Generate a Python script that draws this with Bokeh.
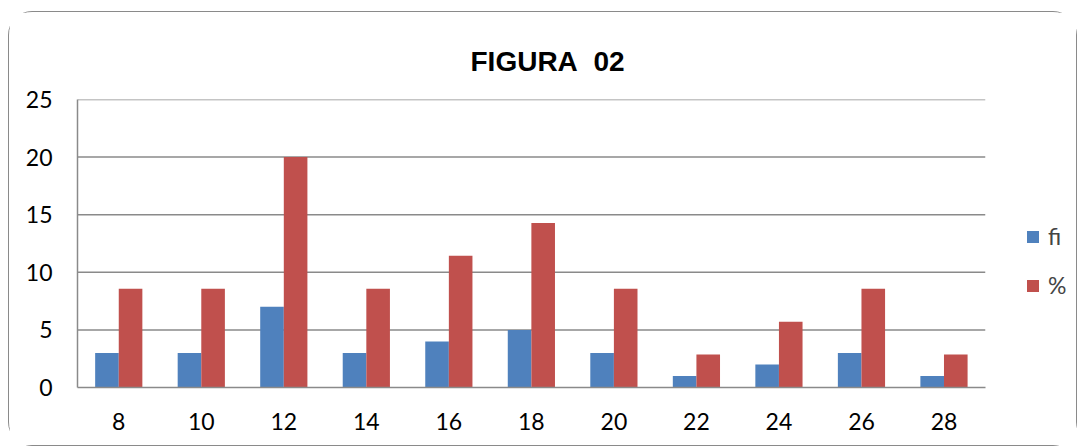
import numpy as np
from bokeh.plotting import figure
from bokeh.models import ColumnDataSource, Legend, LegendItem, Range1d, FixedTicker
from bokeh.embed import file_html
from bokeh.resources import INLINE

categories = ["8", "10", "12", "14", "16", "18", "20", "22", "24", "26", "28"]
fi = [3, 3, 7, 3, 4, 5, 3, 1, 2, 3, 1]
pct = [8.57, 8.57, 20.0, 8.57, 11.43, 14.29, 8.57, 2.86, 5.71, 8.57, 2.86]
y_ticks = [0, 5, 10, 15, 20, 25]

n = len(categories)
centers = np.arange(n) + 0.5
BW = 0.286
src = ColumnDataSource(dict(x_fi=centers - BW / 2, x_pct=centers + BW / 2, fi=fi, pct=pct))

FONT = "Lato"
p = figure(width=1069, height=435, x_range=Range1d(0, 12.13),
           y_range=Range1d(0, 25), output_backend="svg", toolbar_location=None,
           min_border_left=68, min_border_right=0, min_border_top=87, min_border_bottom=60)
p.styles = {"border": "1.5px solid #8a8a8a", "border-radius": "24px", "box-sizing": "border-box",
            "margin-left": "8px", "margin-top": "11px"}

p.title.text = "FIGURA\u00a0\u00a002"
p.title.align = "left"
p.title.offset = 393
p.title.text_font = "Liberation Sans"
p.title.text_font_style = "bold"
p.title.text_font_size = "28px"
p.title.text_color = "black"
p.title.vertical_align = "middle"
p.title.standoff = 44

# horizontal gridlines limited to the category span
p.segment(x0=0, x1=n, y0=y_ticks[1:], y1=y_ticks[1:], line_color="#8a8a8a", line_width=1.5)

r1 = p.vbar(x="x_fi", top="fi", width=BW, source=src, fill_color="#4F81BD", line_color=None)
r2 = p.vbar(x="x_pct", top="pct", width=BW, source=src, fill_color="#C0504D", line_color=None)

p.yaxis.ticker = FixedTicker(ticks=y_ticks)
p.xaxis.ticker = FixedTicker(ticks=list(centers))
p.xaxis.major_label_overrides = {float(c): lab for c, lab in zip(centers, categories)}
p.xaxis.bounds = (0, n)
for ax in (p.xaxis[0], p.yaxis[0]):
    ax.axis_line_color = "#8a8a8a"
    ax.axis_line_width = 1.5
    ax.major_tick_line_color = None
    ax.minor_tick_line_color = None
    ax.major_label_text_font = FONT
    ax.major_label_text_font_size = "23px"
    ax.major_label_text_color = "black"
p.yaxis.major_label_standoff = 19
p.xaxis.major_label_standoff = 19

p.xgrid.grid_line_color = None
p.ygrid.grid_line_color = None
p.outline_line_color = None

legend = Legend(items=[LegendItem(label="fi", renderers=[r1]), LegendItem(label="%", renderers=[r2])],
                label_text_font=FONT, label_text_font_size="23px", glyph_width=15, glyph_height=15,
                spacing=21, border_line_color=None, background_fill_alpha=0, padding=0, margin=0,
                label_standoff=8, location=(948, 88))
p.add_layout(legend)

open("out.html", "w").write(file_html(p, INLINE))
